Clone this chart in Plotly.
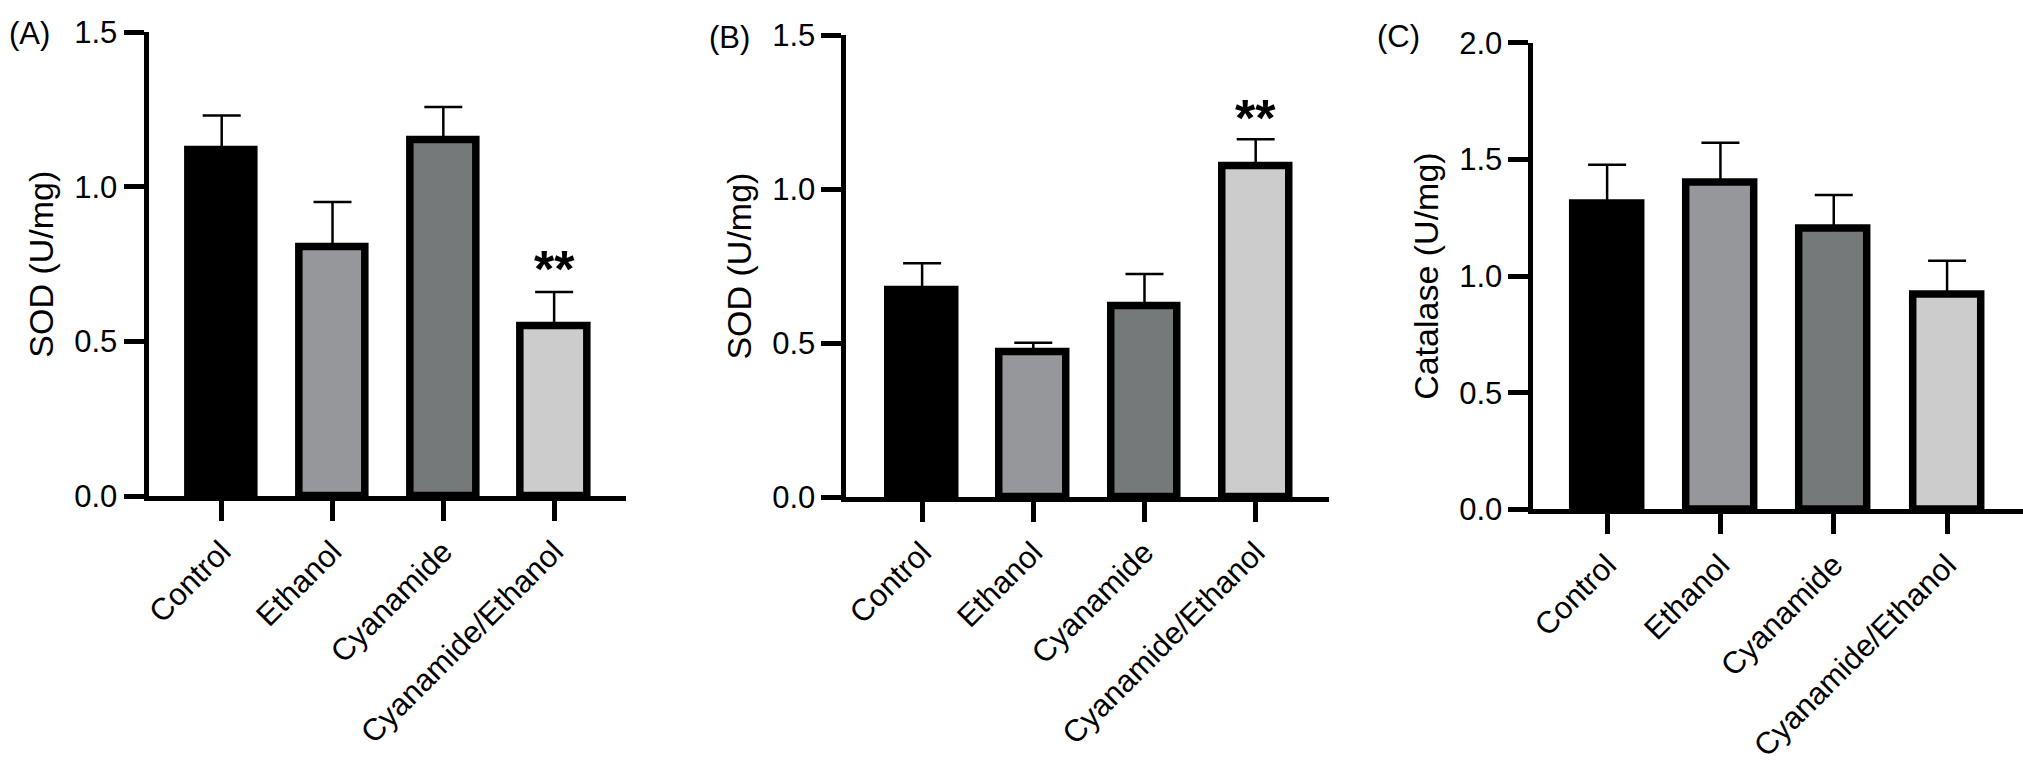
import plotly.graph_objects as go

# group names and bar fills
groups = ["Control", "Ethanol", "Cyanamide", "Cyanamide/Ethanol"]
fills = ["#000000", "#96979b", "#76797a", "#cbcccb"]

# (A) SOD
sod_a = [1.117, 0.805, 1.150, 0.550]
sod_a_err = [0.114, 0.146, 0.108, 0.110]
# (B) SOD
sod_b = [0.672, 0.469, 0.621, 1.074]
sod_b_err = [0.087, 0.032, 0.103, 0.088]
# (C) Catalase
cat_c = [1.310, 1.398, 1.203, 0.920]
cat_c_err = [0.167, 0.173, 0.145, 0.146]

W, H = 2023, 766
FONT = "Arial, Liberation Sans, sans-serif"

fig = go.Figure()


def add_bars(vals, errs, xa, ya):
    fig.add_trace(go.Bar(
        x=groups, y=vals, width=0.6, xaxis=xa, yaxis=ya,
        marker=dict(color=fills, line=dict(color="black", width=7.5)),
        error_y=dict(type="data", array=errs, arrayminus=[0] * len(errs), symmetric=False,
                     color="black", thickness=2.5, width=19),
        showlegend=False))


add_bars(sod_a, sod_a_err, "x", "y")
add_bars(sod_b, sod_b_err, "x2", "y2")
add_bars(cat_c, cat_c_err, "x3", "y3")

xcommon = dict(showline=True, linewidth=5, linecolor="black", ticks="outside", ticklen=20,
               tickwidth=5, tickcolor="black", tickangle=-45, showgrid=False, zeroline=False,
               tickfont=dict(size=31, color="black", family=FONT))
ycommon = dict(showline=True, linewidth=5, linecolor="black", ticks="outside", ticklen=20,
               tickwidth=5, tickcolor="black", showgrid=False, zeroline=False, dtick=0.5,
               tickformat=".1f", tickfont=dict(size=31, color="black", family=FONT),
               title_font=dict(size=34, color="black", family=FONT), title_standoff=12)

fig.update_layout(
    width=W, height=H, margin=dict(l=0, r=0, t=0, b=0),
    paper_bgcolor="white", plot_bgcolor="white", bargap=0,
    xaxis=dict(domain=[143 / W, 622 / W], range=[-0.66, 3.65], anchor="y", **xcommon),
    xaxis2=dict(domain=[843 / W, 1327 / W], range=[-0.68, 3.66], anchor="y2", **xcommon),
    xaxis3=dict(domain=[1532 / W, 1.0], range=[-0.65, 3.67], anchor="y3", **xcommon),
    yaxis=dict(domain=[1 - 502 / H, 1 - 16 / H], range=[0, 1.5], anchor="x",
               title_text="SOD (U/mg)", **ycommon),
    yaxis2=dict(domain=[1 - 503 / H, 1 - 19 / H], range=[0, 1.5], anchor="x2",
                title_text="SOD (U/mg)", **ycommon),
    yaxis3=dict(domain=[1 - 516 / H, 1 - 27 / H], range=[0, 2.0], anchor="x3",
                title_text="Catalase (U/mg)", **ycommon),
)

# panel letters
for letter, px_x, px_y in [("(A)", 1, 17), ("(B)", 703, 22), ("(C)", 1373, 20)]:
    fig.add_annotation(text=letter, x=px_x / W, y=1 - px_y / H, xref="paper", yref="paper",
                       xanchor="left", yanchor="middle", showarrow=False,
                       font=dict(size=31, color="black", family=FONT))

# significance marks
fig.add_annotation(text="<b>**</b>", x="Cyanamide/Ethanol", y=0.735, xref="x", yref="y",
                   yanchor="middle", showarrow=False,
                   font=dict(size=52, color="black", family=FONT))
fig.add_annotation(text="<b>**</b>", x="Cyanamide/Ethanol", y=1.232, xref="x2", yref="y2",
                   yanchor="middle", showarrow=False,
                   font=dict(size=52, color="black", family=FONT))

# page body has an 8px default margin; drop it so the figure fills the window
fig.write_html("out.html", config={"displayModeBar": False},
               post_script="document.body.style.margin='0';")
